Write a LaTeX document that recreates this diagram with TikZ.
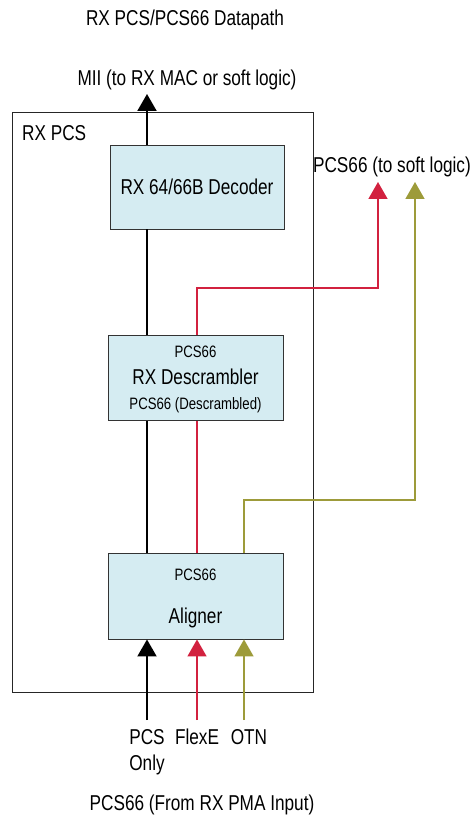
\documentclass[tikz,border=0pt]{standalone}
\usepackage{fontspec}
\setmainfont{Liberation Sans}[FakeStretch=0.8]
\usetikzlibrary{arrows.meta}
\definecolor{boxfill}{HTML}{D5ECF2}
\definecolor{myred}{HTML}{D2213F}
\definecolor{myolive}{HTML}{9D9B3A}
\begin{document}
\begin{tikzpicture}[x=1pt,y=-1pt,
  lbl/.style={inner sep=0pt, font=\fontsize{21.5}{23}\selectfont},
  slbl/.style={inner sep=0pt, font=\fontsize{16.5}{18}\selectfont},
  blk/.style={draw=black!80, line width=0.9pt, fill=boxfill, inner sep=0pt},
  outer/.style={draw=black!85, line width=0.9pt, inner sep=0pt},
  bline/.style={draw=black, line width=2pt},
  rline/.style={draw=myred, line width=1.5pt},
  oline/.style={draw=myolive, line width=1.5pt},
  tip/.style={-{Triangle[width=19pt,length=17pt]}}
]
\useasboundingbox (0,0) rectangle (472,818);
% outer box
\node[outer, minimum width=301pt, minimum height=580pt, anchor=north west] (pcs) at (12,112) {};
\node[lbl, anchor=west] (pcslbl) at (22,133) {RX PCS};
% blocks
\node[blk, minimum width=174pt, minimum height=84pt] (dec) at (197,187) {};
\node[blk, minimum width=175pt, minimum height=85pt] (desc) at (195.5,378) {};
\node[blk, minimum width=175pt, minimum height=86pt] (ali) at (195.5,596) {};
% block texts
\node[lbl] (dect) at (197,187) {RX 64/66B Decoder};
\node[slbl] (desct1) at (195.5,352) {PCS66};
\node[lbl] (desct2) at (195.5,377) {RX Descrambler};
\node[slbl] (desct3) at (195.5,405) {PCS66 (Descrambled)};
\node[slbl] (alit1) at (195.5,575) {PCS66};
\node[lbl] (alit2) at (195.5,618) {Aligner};
% outside labels
\node[lbl] (title) at (185,20) {RX PCS/PCS66 Datapath};
\node[lbl] (mii) at (187,80) {MII (to RX MAC or soft logic)};
\node[lbl, anchor=east] (soft) at (471,167) {PCS66 (to soft logic)};
\node[lbl] (pcsin) at (147,737) {PCS};
\node[lbl] (only) at (147,765) {Only};
\node[lbl] (flexe) at (197,737) {FlexE};
\node[lbl] (otn) at (249,737) {OTN};
\node[lbl] (bottom) at (202,805) {PCS66 (From RX PMA Input)};
% coordinates
\coordinate (cb) at (147,0);
\coordinate (cr) at (197,0);
\coordinate (co) at (244,0);
\coordinate (miitip) at (147,94);
\coordinate (rbend) at (378,288);
\coordinate (rtip) at (378,182);
\coordinate (obend) at (415,500);
\coordinate (otip) at (415,182);
\coordinate (inb) at (147,720);
\coordinate (inr) at (197,720);
\coordinate (ino) at (244,720);
% black path
\draw[bline, tip] (dec.north -| cb) -- (miitip);
\draw[bline] (desc.north -| cb) -- (dec.south -| cb);
\draw[bline] (ali.north -| cb) -- (desc.south -| cb);
\draw[bline, tip] (inb) -- (ali.south -| cb);
% red path
\draw[rline] (ali.north -| cr) -- (desc.south -| cr);
\draw[rline, tip] (desc.north -| cr) |- (rbend) -- (rtip);
\draw[rline, tip] (inr) -- (ali.south -| cr);
% olive path
\draw[oline, tip] (ali.north -| co) |- (obend) -- (otip);
\draw[oline, tip] (ino) -- (ali.south -| co);
\end{tikzpicture}
\end{document}
